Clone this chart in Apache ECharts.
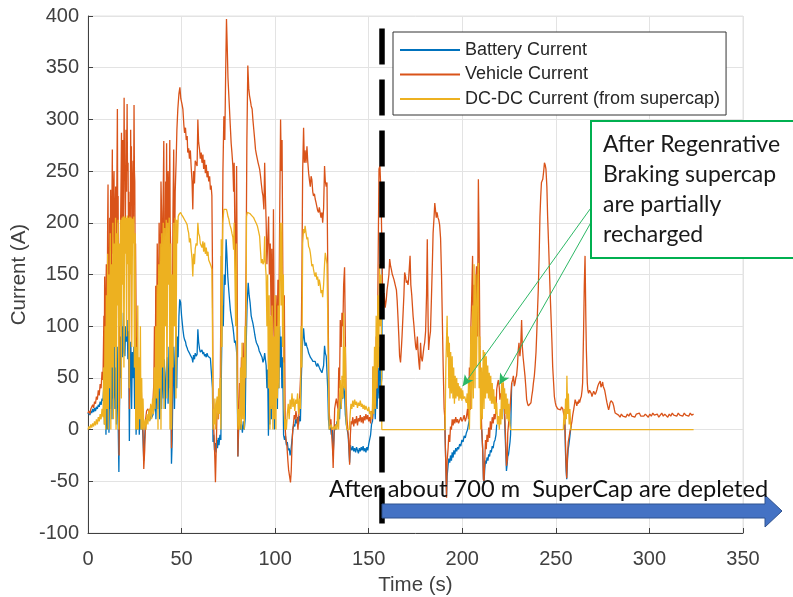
<!DOCTYPE html>
<html>
<head>
<meta charset="utf-8">
<script src="https://cdn.jsdelivr.net/npm/echarts@6.0.0/dist/echarts.min.js"></script>
<style>
  html, body { margin: 0; padding: 0; background: #ffffff; }
  #chart { width: 793px; height: 597px; }
</style>
</head>
<body>
<div id="chart"></div>
<script>
// Series names (legend order)
const seriesNames = ['Battery Current', 'Vehicle Current', 'DC-DC Current (from supercap)'];

// Axis ranges and tick spacing
const timeTicks = [0, 50, 100, 150, 200, 250, 300, 350];
const currentTicks = [-100, -50, 0, 50, 100, 150, 200, 250, 300, 350, 400];

// Moment the supercap is depleted (s)
const depletionTime = 157.1;

// Vehicle current [time s, current A]
const vehicleCurrent = [
  [0,16],[0.5,18],[1,15],[1.5,20],[2,19],[2.5,24],[3,21],[3.5,27],[4,25],[4.5,32],[5,29],[5.5,38],[6,33],[6.5,44],[7,40],[7.5,56],[8,48],
  [8.5,110],[8.7,60],[8.9,148],[9.1,50],[9.3,70],[9.5,120],[9.8,160],[10,90],[10.3,120],[10.5,200],[10.7,237],[10.9,140],[11.2,171],
  [11.4,120],[11.6,205],[11.9,150],[12.1,232],[12.3,130],[12.5,160],[12.8,220],[13,271],[13.2,170],[13.4,194],[13.6,230],[13.9,250],
  [14.1,160],[14.3,180],[14.5,210],[14.8,235],[15,170],[15.3,200],[15.5,260],[15.7,310],[15.9,200],[16.1,226],[16.4,90],[16.6,-25],
  [16.9,60],[17.1,140],[17.3,180],[17.6,230],[17.9,287],[18.1,190],[18.3,210],[18.6,280],[18.8,250],[19,200],[19.3,321],[19.5,250],
  [19.8,242],[20,200],[20.3,290],[20.6,230],[20.9,315],[21.1,250],[21.4,258],[21.6,200],[21.8,230],[22.1,20],[22.4,220],[22.6,170],
  [22.8,290],[23,230],[23.2,274],[23.5,180],[23.7,200],[23.9,240],[24.1,260],[24.3,200],[24.6,314],[24.8,250],[25,240],[25.2,150],
  [25.4,180],[25.8,90],[26.3,60],[26.8,45],[27.3,58],[27.8,30],[28.3,50],[28.8,20],[29.3,10],[29.8,-38],[30.3,-20],
  [30.8,10],[31.3,18],[32,20],[32.7,17],[33.4,21],[34,22],[34.6,24],[35.2,45],[35.5,100],[35.7,80],[36,60],[36.2,139],[36.5,70],
  [36.7,100],[37,180],[37.2,150],[37.5,90],[37.7,120],[38,200],[38.2,180],[38.5,110],[38.7,140],[39,240],[39.3,210],[39.6,130],
  [39.8,170],[40.2,230],[40.5,279],[40.8,150],[41,200],[41.3,170],[41.5,240],[41.8,200],[42,277],[42.3,160],[42.5,190],[42.8,250],
  [43,230],[43.3,170],[43.7,280],[43.9,200],[44.1,180],[44.3,120],
  [44.6,-18],[45,60],[45.4,210],[45.8,271],[46.2,150],[46.6,230],[47.1,260],[47.5,290],[48,310],[48.6,325],[49.1,331],[49.6,320],
  [50.2,315],[50.7,310],[51.2,295],[51.6,287],[52.1,292],[52.5,280],[53,284],[53.3,268],[53.8,272],[54.2,262],[54.7,270],[55.1,255],
  [55.6,240],[56,213],[56.4,250],[56.9,238],[57.3,260],[57.8,261],[58.3,255],[58.7,300],[59.1,278],[59.6,271],[60,262],[60.5,268],
  [60.9,258],[61.4,266],[61.8,252],[62.3,261],[62.7,248],[63.2,256],[63.6,244],[64.1,250],[64.5,240],[65,245],[65.4,232],[65.8,236],
  [66.2,226],[66.5,160],[66.8,20],[67.1,5],[67.5,-12],[67.8,-30],[68.1,-51],[68.5,-20],[68.9,15],[69.3,30],[69.7,10],[70.1,35],[70.6,25],
  [71.2,168],[71.6,120],[72.1,250],[72.6,303],[73.1,280],[73.6,350],[74,397],[74.4,370],[74.8,340],[75.2,325],[75.6,310],[76,295],
  [76.5,277],[76.9,268],[77.4,255],[77.8,230],[78.1,258],[78.5,190],[78.9,150],[79.4,255],[79.8,120],[80.1,-26],[80.5,10],[81,45],
  [81.5,30],[82,70],[82.4,40],[82.9,84],[83.4,20],[83.8,55],[84.2,110],[84.5,165],[84.9,280],[85.4,352],[85.9,330],[86.3,323],[86.8,318],
  [87.2,313],[87.7,310],[88.1,300],[88.6,290],[89.1,280],[89.5,271],[90,266],[90.4,265],[90.9,258],[91.3,255],[91.7,252],[92.2,245],
  [92.6,238],[93.1,230],[93.5,226],[94,213],[94.4,258],[94.8,226],[95.2,200],[95.6,160],[96,181],[96.5,206],[96.9,150],[97.4,180],
  [97.8,110],[98.2,175],[98.6,60],[99.1,213],[99.5,100],[100,40],[100.5,130],[101,80],[101.5,145],[102,110],[102.4,200],[102.9,300],
  [103.3,250],[103.7,280],[104.1,150],[104.5,65],[104.9,130],[105.4,0],[105.8,-10],[106.3,-16],[106.8,-30],[107.2,-39],[107.7,-45],
  [108.2,-51],[108.6,-40],[109,-16],[109.4,0],[109.8,6],[110.2,14],[110.7,10],[111.1,18],[111.6,12],[112.2,0],[112.7,15],[113.4,16],
  [113.8,60],[114.3,150],[114.7,250],[115.2,292],[115.6,258],[116,270],[116.5,258],[117,274],[117.4,260],[117.9,248],[118.4,240],
  [118.8,235],[119.2,245],[119.6,242],[120.1,230],[120.5,226],[121,228],[121.4,223],[121.8,220],[122.3,219],[122.7,212],[123.2,210],
  [123.6,215],[124.1,216],[124.5,205],[125,210],[125.4,200],[125.9,214],[126.4,255],[126.8,240],[127.3,235],[127.7,239],[128.1,160],
  [128.5,80],[128.9,16],[129.4,5],[129.8,10],[130.3,-8],[130.7,-20],[131,-37],[131.4,-10],[131.8,20],[132.3,26],[132.7,30],[133.2,24],
  [133.6,20],[134,60],[134.4,40],[134.8,106],[135.3,80],[135.7,113],[136.2,100],[136.6,140],[137.1,157],[137.5,90],[137.9,30],[138.4,10],
  [138.8,0],[139.3,-10],[139.8,-34],[140.2,-5],[140.6,8],[141,5],[141.5,12],[142,3],[142.5,10],[143,6],[143.5,13],[144,4],[144.5,11],
  [145,8],[145.5,14],[146,7],[146.5,12],[147,6],[147.5,13],[148,9],[148.5,15],[149,10],[149.5,14],[150,8],[150.5,12],[151,6],[151.5,18],
  [152,10],[152.3,61],[152.8,30],[153.2,45],[153.6,20],[154,90],[154.5,40],[155,158],[155.5,252],[156,255],[156.4,235],[156.7,213],
  [157.2,160],[157.6,110],[158.2,132],[158.8,118],[159.4,126],[159.8,135],[160.3,142],[160.8,150],[161.2,165],[161.7,158],[162.1,155],
  [162.6,150],[163,148],[163.5,145],[163.9,142],[164.4,138],[164.8,135],[165.2,125],[165.6,110],[166.1,90],[166.5,71],[167,65],[167.5,80],
  [167.8,90],[168.3,110],[168.8,130],[169.2,152],[169.7,148],[170.1,142],[170.5,144],[171,140],[171.3,145],[171.7,145],[172.1,168],
  [172.5,140],[173,130],[173.7,110],[174.2,100],[174.6,90],[175.1,80],[175.5,77],[176,90],[176.4,75],[176.8,65],[177.2,58],[177.7,84],
  [178.1,70],[178.6,66],[179,72],[179.5,80],[179.9,84],[180.4,95],[180.9,130],[181.3,184],[181.7,110],[182,77],[182.5,88],[183,95],
  [183.5,126],[184,160],[184.4,190],[184.9,205],[185.3,219],[185.7,212],[186.1,205],[186.5,210],[187,205],[187.4,203],[187.9,198],
  [188.4,185],[188.9,150],[189.3,110],[189.8,60],[190.3,20],[190.6,13],[191,-20],[191.6,-66],[191.9,-30],[192.4,-19],[192.8,-5],
  [193.3,-12],[193.7,3],[194.2,0],[194.6,10],[195.1,4],[195.5,10],[196,6],[196.5,12],[197,7],[197.5,10],[198,6],[198.6,9],[199.2,12],
  [199.8,8],[200.4,10],[201,14],[201.6,8],[202.2,12],[202.8,20],[203.3,10],[203.8,60],[204.2,19],[204.6,100],[205,126],[205.5,168],
  [205.9,60],[206.3,140],[206.8,70],[207.2,142],[207.6,158],[208.1,90],[208.6,242],[209,180],[209.4,80],[209.9,30],[210.4,0],[210.9,-19],
  [211.3,-48],[211.6,-50],[212,-30],[212.4,-10],[212.8,-19],[213.2,-5],[213.7,-12],[214.1,2],[214.6,-8],[215,8],[215.5,0],[216,12],
  [216.5,6],[217,15],[217.5,10],[218,20],[218.4,39],[218.9,45],[219.3,48],[219.8,40],[220.1,29],[220.6,35],[221,32],[221.5,40],[221.9,45],
  [222.3,30],[222.8,10],[223.6,-35],[224,-30],[224.3,-3],[224.7,5],[225.1,13],[225.5,20],[225.8,29],[226.4,45],[226.9,48],[227.3,52],
  [227.8,42],[228.2,45],[228.6,50],[229,52],[229.5,62],[229.9,77],[230.3,84],[230.8,71],[231.2,80],[231.7,106],[232.1,80],[232.5,70],
  [233,61],[233.5,52],[234,40],[234.4,29],[234.9,25],[235.3,23],[235.8,22],[236.2,24],[236.7,26],[237.1,32],[237.6,38],[238,45],
  [238.5,52],[238.9,61],[239.4,75],[239.8,94],[240.2,115],[240.6,135],[241.1,170],[241.5,206],[241.9,225],[242.3,239],[242.7,240],
  [243,242],[243.5,250],[243.9,258],[244.3,256],[244.7,252],[245.2,235],[245.6,206],[246.1,180],[246.5,158],[247,130],[247.4,110],
  [247.9,85],[248.3,61],[248.8,45],[249.2,32],[249.7,26],[250.1,23],[250.6,22],[251,20],[251.4,19],[252,21],[252.5,19],[253,22],
  [253.7,20],[254.2,15],[254.7,13],[255.1,-10],[255.5,-35],[255.8,-47],[256.2,-25],[256.6,-12],[257,-8],[257.7,0],[258.2,4],[258.6,8],
  [259,14],[259.5,19],[260,25],[260.3,29],[260.8,26],[261.2,23],[261.6,27],[262,25],[262.4,29],[262.7,26],[263.2,30],[263.6,32],[264,38],
  [264.3,45],[264.8,94],[265.2,140],[265.6,168],[266,110],[266.3,77],[266.8,45],[267.1,38],[267.5,35],[268,38],[268.4,39],[268.9,35],
  [269.3,32],[269.8,35],[270.2,37],[270.6,36],[271,34],[271.5,36],[272,39],[272.4,42],[272.8,44],[273.3,43],[273.7,47],[274.1,41],
  [274.3,40],[274.7,44],[275,46],[275.3,42],[275.7,42],[276.1,38],[276.4,35],[276.9,30],[277.3,26],[277.8,22],[278.2,19],[278.6,22],
  [279,26],[279.5,28],[280,29],[280.4,26],[280.9,23],[281.3,19],[281.7,16],[282.2,15],[282.6,15],[283.5,14],[284.3,12],[285,15],
  [285.8,13],[286.6,14],[287.4,12],[288.2,15],[289,13],[289.8,16],[290.6,13],[291.4,14],[292.2,12],[293,15],[293.8,14],[294.6,16],
  [295.4,13],[296.2,14],[297,13],[297.8,15],[298.6,14],[299.4,12],[300.2,15],[301,13],[301.8,16],[302.6,14],[303.4,13],[304.2,15],
  [305,12],[305.8,14],[306.6,16],[307.4,13],[308.2,15],[309,14],[309.8,12],[310.6,15],[311.4,13],[312.2,16],[313,14],[313.8,15],
  [314.6,13],[315.4,16],[316.2,14],[317,15],[317.8,13],[318.6,16],[319.4,14],[320.2,15],[321,13],[321.8,16],[322.6,14],[323.6,15]
];

// DC-DC converter current drawn from the supercap [time s, current A]
const dcdcCurrent = [
  [0,0],[0.5,3],[1,1],[1.5,5],[2,2],[2.5,6],[3,3],[3.5,8],[4,4],[4.5,10],[5,5],[5.5,12],[6,8],[6.5,15],[7,10],[7.5,20],[8,12],
  [8.4,60],[8.7,5],[9.1,100],[9.4,0],[9.8,130],[10.1,20],[10.5,170],[10.8,0],[11.2,150],[11.5,40],[11.9,190],[12.2,0],[12.6,160],
  [12.9,60],[13.3,200],[13.6,10],[14,180],[14.3,80],[14.7,205],[15,0],[15.4,190],[15.7,120],[16.1,203],[16.4,0],[16.8,180],[17.1,100],
  [17.5,203],[17.8,30],[18.2,205],[18.5,140],[18.9,206],[19.2,60],[19.6,206],[19.9,170],[20.3,205],[20.6,90],[21,207],[21.3,160],
  [21.7,205],[22,40],[22.4,206],[22.7,150],[23.1,205],[23.4,80],[23.8,204],[24.1,180],[24.5,206],[24.8,60],[25.2,190],[25.5,0],
  [25.9,80],[26.2,0],[26.6,120],[26.9,0],[27.3,70],[27.6,10],[28,100],[28.3,0],[28.7,50],[29,0],[29.4,30],[29.8,0],[30.2,0],[30.6,10],
  [31,0],[31.5,15],[32,5],[32.5,20],[33,8],[33.5,25],[34,10],[34.5,30],[35,15],[35.4,60],[35.8,20],[36.2,100],[36.6,30],[37,140],
  [37.4,0],[37.8,160],[38.2,40],[38.6,180],[39,0],[39.4,190],[39.8,60],[40.2,200],[40.6,20],[41,195],[41.4,100],[41.8,203],[42.2,30],
  [42.6,200],[43,140],[43.4,205],[43.8,0],[44.2,180],[44.6,0],[45,150],[45.4,60],[45.8,200],[46.2,100],[46.6,205],[47,30],[47.4,203],
  [47.8,180],[48.2,206],[48.6,208],[49,209],[49.5,210],[50,208],[50.7,206],[51.2,205],[51.6,203],[52.1,202],[52.5,200],[53,198],
  [53.3,194],[53.8,190],[54.2,181],[54.7,185],[55.1,175],[55.6,165],[56,148],[56.4,170],[56.9,160],[57.3,175],[57.8,180],[58.3,178],
  [58.7,200],[59.1,190],[59.6,187],[60,180],[60.5,181],[60.9,176],[61.4,182],[61.8,172],[62.3,181],[62.7,170],[63.2,176],[63.6,168],
  [64.1,172],[64.5,164],[65,165],[65.4,160],[65.8,158],[66.2,155],[66.5,100],[66.8,0],[67.1,20],[67.5,5],[67.8,30],[68.2,0],[68.6,25],
  [69,32],[69.4,10],[69.8,40],[70.2,15],[70.6,50],[71,0],[71.2,184],[71.6,80],[72,200],[72.6,213],[73.1,212],[73.6,213],[74,213],
  [74.4,210],[74.8,206],[75.2,204],[75.6,200],[76,197],[76.5,194],[76.9,190],[77.4,186],[77.8,174],[78.1,200],[78.5,150],[78.9,100],
  [79.3,180],[79.7,40],[80.1,0],[80.5,20],[81,0],[81.5,60],[81.9,0],[82.3,84],[82.7,10],[83.1,70],[83.5,0],[83.9,100],[84.3,50],
  [84.7,206],[85.1,210],[85.6,210],[86,209],[86.5,209],[87,208],[87.5,207],[88,206],[88.5,205],[89,203],[89.5,201],[90,199],[90.5,197],
  [91,193],[91.7,187],[92.1,175],[92.6,161],[93.1,165],[93.5,160],[94,162],[94.4,187],[94.8,160],[95.2,148],[95.6,100],[96,150],
  [96.4,40],[96.8,130],[97.2,0],[97.6,110],[98,20],[98.4,120],[98.8,0],[99.2,90],[99.6,10],[100,130],[100.4,0],[100.8,100],[101.2,30],
  [101.6,120],[102,40],[102.4,150],[102.8,200],[103.2,120],[103.6,200],[104,80],[104.4,150],[104.8,20],[105.2,0],[105.6,10],[106,0],
  [106.5,15],[107,25],[107.5,10],[108,29],[108.5,20],[109,35],[109.5,22],[110,30],[110.5,18],[111,29],[111.5,25],[112,35],[112.5,15],
  [113,30],[113.5,20],[113.9,100],[114.3,60],[114.7,180],[115.2,194],[115.6,190],[116,197],[116.5,190],[117,184],[117.4,186],
  [117.9,177],[118.4,175],[118.8,171],[119.2,165],[119.6,158],[120.1,160],[120.5,155],[121,150],[121.4,148],[121.8,152],[122.3,145],
  [122.7,148],[123.2,139],[123.6,145],[124.1,140],[124.5,132],[125,135],[125.4,128],[125.9,140],[126.4,160],[126.8,171],[127.3,165],
  [127.7,160],[128.1,110],[128.5,40],[128.9,0],[129.5,0],[130,5],[130.5,0],[131,0],[131.5,3],[132,0],[132.5,5],[133,0],[133.5,20],
  [133.9,0],[134.4,30],[134.8,48],[135.3,20],[135.7,52],[136.2,30],[136.6,113],[137,40],[137.5,80],[137.9,10],[138.4,0],[139,0],
  [139.6,0],[140.1,15],[140.5,25],[141,20],[141.5,28],[142,22],[142.5,29],[143,24],[143.5,27],[144,21],[144.5,26],[145,23],[145.5,28],
  [146,22],[146.5,25],[147,20],[147.5,24],[148,19],[148.5,23],[149,20],[149.5,18],[150,22],[150.5,15],[151,18],[151.5,10],[152,20],
  [152.3,61],[152.7,15],[153.1,80],[153.5,20],[154,110],[154.4,40],[154.9,130],[155.3,60],[155.8,160],[156.2,100],[156.6,150],[157,0],
  [190.8,0],[191.2,60],[191.9,110],[192.2,70],[192.5,90],[192.8,40],[193.1,84],[193.4,30],[193.8,75],[194.2,35],[194.6,71],[195,30],
  [195.4,60],[195.8,25],[196.2,52],[196.6,30],[197,50],[197.4,32],[197.8,45],[198.2,28],[198.6,42],[199,30],[199.4,40],[199.8,28],
  [200.2,38],[200.6,30],[201.3,32],[201.8,28],[202.2,26],[202.6,35],[203,20],[203.4,50],[203.8,0],[204.2,40],[204.6,100],[205,20],
  [205.5,120],[205.9,30],[206.3,160],[206.8,40],[207.2,150],[207.6,60],[208.1,130],[208.6,161],[209,40],[209.4,90],[209.8,0],
  [210.3,60],[210.7,10],[211.2,77],[211.6,20],[212,75],[212.4,30],[212.8,71],[213.2,35],[213.6,62],[214,30],[214.4,55],[214.8,28],
  [215.2,52],[215.6,25],[216,45],[216.4,25],[216.8,39],[217.2,20],[217.6,32],[218,15],[218.4,26],[218.8,5],[219.3,13],[219.8,0],
  [220.2,20],[220.6,5],[221,45],[221.4,10],[221.8,48],[222.2,20],[222.6,40],[223,15],[223.4,35],[223.8,10],[224.2,30],[224.6,8],
  [225,25],[225.4,5],[225.8,0],[254,0],[254.4,20],[254.8,5],[255.2,30],[255.6,10],[255.9,52],[256.3,15],[256.7,35],[257.1,5],
  [257.5,20],[258,0],[323.6,0]
];

// Battery current [time s, current A]; '-' breaks the trace where it runs under the vehicle current
const batteryCurrent = [
  [0,15],[0.5,17],[1,14],[1.5,18],[2,16],[2.5,20],[3,17],[3.5,21],[4,18],[4.5,22],[5,20],[5.5,24],[6,22],[6.5,27],[7,24],[7.5,30],[8,28],
  [8.4,40],[8.8,5],[9.2,60],[9.6,-5],[10,50],[10.4,0],[10.8,70],[11.2,-3],[11.6,60],[12,20],[12.4,80],[12.8,10],[13.2,70],[13.6,30],
  [14,90],[14.4,20],[14.8,60],[15.2,5],[15.6,80],[16,20],[16.5,-41],[16.9,30],[17.3,90],[17.7,50],[18.1,100],[18.5,70],[18.9,113],
  [19.3,75],[19.7,71],[20.1,100],[20.5,85],[20.9,106],[21.3,68],[21.7,95],[22.1,-11],[22.5,60],[22.9,85],[23.3,20],[23.7,75],[24.1,50],
  [24.5,80],[24.9,20],[25.3,60],[25.7,-5],[26.1,30],[26.5,0],[27,40],[27.4,-5],[27.9,20],[28.3,0],[28.8,15],[29.3,-5],[29.8,-30],
  [30.2,-10],[30.7,5],[31.2,10],[31.8,8],[32.4,12],[33,9],[33.6,14],[34.2,12],[34.8,15],[35.3,20],[35.8,40],[36.3,10],[36.8,50],
  [37.3,20],[37.8,40],[38.3,10],[38.8,60],[39.3,20],[39.8,70],[40.3,30],[40.8,68],[41.3,20],[41.8,55],[42.3,70],[42.8,25],[43.3,80],
  [43.8,40],[44.2,60],[44.6,-33],[45,-10],[45.4,50],[45.8,80],[46.2,20],[46.6,60],[47,100],[47.4,40],[47.8,90],[48.2,70],[48.6,110],
  [49,126],[49.5,123],[50,110],[50.7,97],[51.2,90],[51.6,87],[52.1,85],[52.5,81],[53,79],[53.3,77],[53.8,76],[54.2,74],[54.7,72],
  [55.1,71],[55.6,69],[56,65],[56.4,72],[56.9,68],[57.3,74],[57.8,71],[58.3,73],[58.7,97],[59.1,85],[59.6,78],[60,75],[60.5,74],
  [60.9,77],[61.4,73],[61.8,75],[62.3,71],[62.7,73],[63.2,70],[63.6,74],[64.1,71],[64.5,70],[65,72],[65.4,69],[65.8,69],[66.2,68],
  [66.5,40],[66.8,-12],[67.2,-5],[67.6,-20],[68,-13],[68.4,-22],[68.8,-10],[69.2,-18],[69.6,-8],[70,-15],[70.5,-5],[71,-10],[71.3,60],
  [71.8,120],[72.3,100],[72.8,150],[73.3,140],[73.8,184],[74.2,170],[74.7,148],[75.2,135],[75.6,126],[76.1,115],[76.5,110],[77,104],
  [77.4,100],[77.9,92],[78.3,84],[78.7,86],[79.2,80],[79.6,70],[80.1,-26],[80.5,0],[81,10],[81.5,0],[82,5],[82.5,-3],[83,8],[83.5,0],
  [84,10],[84.5,80],[85,120],[85.6,142],[86.1,130],[86.6,123],[87.2,110],[87.7,106],[88.1,103],[88.6,98],[89.1,92],[89.6,87],[90,84],
  [90.5,82],[91,80],[91.5,76],[92,74],[92.5,72],[93,70],[93.5,65],[94,68],[94.4,74],[94.8,68],[95.2,62],[95.6,40],[96,58],[96.4,-6],
  [96.8,40],[97.2,5],[97.6,60],[98,10],[98.4,80],[98.8,20],[99.2,70],[99.6,0],[100,60],[100.4,30],[100.8,97],[101.2,20],[101.6,80],
  [102,40],[102.4,100],[102.8,60],[103.2,90],[103.6,40],[104,70],[104.5,-5],[105,-10],[105.5,-6],[106,-15],[106.5,-12],[107,-20],
  [107.5,-18],[108,-25],[108.5,-19],[109,-10],[109.5,0],[110,5],[110.5,3],[111,10],[111.5,6],[112,12],[112.5,5],[113,13],[113.5,8],
  [114,50],[114.5,80],[115.2,98],[115.6,88],[116,81],[116.5,84],[117,80],[117.4,78],[117.9,74],[118.4,72],[118.8,70],[119.2,71],
  [119.6,68],[120.1,66],[120.5,65],[121,67],[121.4,66],[121.8,63],[122.3,61],[122.7,64],[123.2,62],[123.6,60],[124.1,58],[124.5,59],
  [125,55],[125.4,58],[125.9,62],[126.4,81],[126.8,74],[127.3,71],[127.7,72],[128.1,40],[128.5,10],[129,0],[129.5,5],[130,-5],[130.5,2],
  [131,-25],[131.5,-5],[132,5],[132.5,0],[133,8],[133.5,3],[134,20],[134.4,10],[134.8,32],[135.3,20],[135.7,39],[136.2,30],[136.6,42],
  [137.1,35],[137.5,15],[138,5],[138.5,0],[139,-5],[139.8,-32],[140.2,-15],[140.6,-18],[141,-20],[141.5,-16],[142,-21],[142.5,-18],
  [143,-22],[143.5,-17],[144,-20],[144.5,-23],[145,-18],[145.5,-21],[146,-17],[146.5,-20],[147,-16],[147.5,-21],[148,-18],[148.5,-22],
  [149,-17],[149.5,-20],[150,-14],[150.5,-15],[151,-5],[151.5,5],[152,8],[152.5,20],[153,30],[153.5,10],[154,40],[154.5,20],[155,60],
  [155.5,30],[156,80],[156.5,40],[157,50],[157.2,160],
  [157.3,'-'],
  [190.6,13],[191,-20],[191.6,-64],[191.9,-45],[192.4,-35],[192.8,-28],[193.3,-32],[193.7,-25],[194.2,-30],[194.6,-22],[195.1,-27],
  [195.5,-20],[196,-24],[196.5,-18],[197,-21],[197.5,-17],[198,-19],[198.6,-14],[199.2,-16],[199.8,-10],[200.4,-12],[201,-6],[201.6,-8],
  [202.2,-3],[202.8,0],[203.3,5],[203.8,10],
  [204,'-'],
  [210.4,0],[210.9,-19],[211.3,-48],[211.6,-52],[212,-38],[212.4,-30],[212.8,-33],[213.2,-27],[213.7,-30],[214.1,-24],[214.6,-26],
  [215,-20],[215.5,-22],[216,-16],[216.5,-18],[217,-12],[217.5,-10],[218,-5],[218.4,5],
  [218.6,'-'],
  [222.3,25],[222.8,0],[223.6,-40],[224,-33],[224.3,-26],[224.7,-24],[225.1,-18],[225.5,-12],[225.8,-5],[226.1,20],[226.4,45],
  [226.6,'-'],
  [254.7,13],[255.1,-20],[255.5,-40],[255.8,-48],[256.2,-30],[256.6,-19],[257,-14],[257.4,-8],[257.7,-3],[258.2,4]
];

const colors = { battery: '#0072BD', vehicle: '#D95319', dcdc: '#EDB120' };
const axisColor = '#404040';
const gridColor = '#e3e3e3';
const tickFont = 'Liberation Sans';

const chart = echarts.init(document.getElementById('chart'), null, { renderer: 'canvas' });

function lineSeries(name, data, color, z) {
  return {
    name: name,
    type: 'line',
    data: data,
    symbol: 'none',
    showSymbol: false,
    connectNulls: false,
    lineStyle: { color: color, width: 1.3 },
    itemStyle: { color: color },
    z: z,
    animation: false
  };
}

chart.setOption({
  backgroundColor: '#ffffff',
  animation: false,
  grid: {
    left: 88, top: 16, width: 655, height: 517,
    containLabel: false,
    outerBoundsMode: 'none',
    show: true, borderColor: gridColor, borderWidth: 1
  },
  legend: {
    data: seriesNames,
    orient: 'vertical',
    left: 393,
    top: 32,
    padding: [9, 6, 7, 7],
    icon: 'rect',
    itemWidth: 60,
    itemHeight: 2,
    itemGap: 6.5,
    backgroundColor: '#ffffff',
    borderColor: '#333333',
    borderWidth: 1,
    selectedMode: false,
    textStyle: { fontFamily: tickFont, fontSize: 18, color: '#262626' }
  },
  xAxis: {
    type: 'value',
    min: timeTicks[0],
    max: timeTicks[timeTicks.length - 1],
    interval: timeTicks[1] - timeTicks[0],
    name: 'Time (s)',
    nameLocation: 'middle',
    nameGap: 42,
    nameMoveOverlap: false,
    nameTextStyle: { fontFamily: tickFont, fontSize: 20.5, color: axisColor },
    axisLine: { show: true, onZero: false, lineStyle: { color: axisColor, width: 1 } },
    axisTick: { show: true, inside: true, length: 5, lineStyle: { color: axisColor } },
    axisLabel: { fontFamily: tickFont, fontSize: 20, color: axisColor, margin: 16 },
    splitLine: { show: true, lineStyle: { color: gridColor, width: 1 } }
  },
  yAxis: {
    type: 'value',
    min: currentTicks[0],
    max: currentTicks[currentTicks.length - 1],
    interval: currentTicks[1] - currentTicks[0],
    name: 'Current (A)',
    nameLocation: 'middle',
    nameGap: 58,
    nameMoveOverlap: false,
    nameRotate: 90,
    nameTextStyle: { fontFamily: tickFont, fontSize: 20.5, color: axisColor },
    axisLine: { show: true, onZero: false, lineStyle: { color: axisColor, width: 1 } },
    axisTick: { show: true, inside: true, length: 5, lineStyle: { color: axisColor } },
    axisLabel: { fontFamily: tickFont, fontSize: 20, color: axisColor, margin: 9 },
    splitLine: { show: true, lineStyle: { color: gridColor, width: 1 } }
  },
  series: [
    lineSeries(seriesNames[0], batteryCurrent, colors.battery, 2),
    lineSeries(seriesNames[1], vehicleCurrent, colors.vehicle, 3),
    lineSeries(seriesNames[2], dcdcCurrent, colors.dcdc, 4),
    {
      // depletion marker
      type: 'line',
      data: [],
      z: 6,
      silent: true,
      markLine: {
        silent: true,
        animation: false,
        symbol: ['none', 'none'],
        label: { show: false },
        lineStyle: { color: '#000000', width: 5.5, type: [36, 15] },
        emphasis: { disabled: true },
        data: [[{ coord: [depletionTime, 388] }, { coord: [depletionTime, -92] }]]
      }
    },
    {
      // callout pointers to the recharge events
      type: 'line',
      data: [],
      z: 7,
      silent: true,
      markLine: {
        silent: true,
        animation: false,
        symbol: ['none', 'arrow'],
        symbolSize: [8, 11],
        label: { show: false },
        lineStyle: { color: '#2DB866', width: 1, type: 'solid' },
        emphasis: { disabled: true },
        data: [
          [{ coord: [268.9, 214.8] }, { coord: [200.2, 42] }],
          [{ coord: [268.9, 200.8] }, { coord: [219.8, 43.5] }]
        ]
      }
    }
  ],
  graphic: [
    {
      type: 'rect',
      z: 100,
      shape: { x: 591, y: 121, width: 240, height: 137 },
      style: { fill: '#ffffff', stroke: '#00B050', lineWidth: 2 }
    },
    {
      type: 'text',
      z: 101,
      x: 603,
      y: 130,
      style: {
        text: 'After Regenrative\nBraking supercap\nare partially\nrecharged',
        font: '23px Lato',
        fill: '#1a1a1a',
        lineHeight: 30,
        verticalAlign: 'top'
      }
    },
    {
      type: 'polygon',
      z: 100,
      shape: { points: [[382, 504], [765, 504], [765, 495], [782, 511], [765, 527], [765, 518], [382, 518]] },
      style: { fill: '#4472C4', stroke: '#2F528F', lineWidth: 1 }
    },
    {
      type: 'text',
      z: 101,
      x: 329,
      y: 489,
      style: {
        text: 'After about 700 m  SuperCap are depleted',
        font: '23.6px Lato',
        fill: '#111111',
        verticalAlign: 'middle'
      }
    }
  ]
});
</script>
</body>
</html>
